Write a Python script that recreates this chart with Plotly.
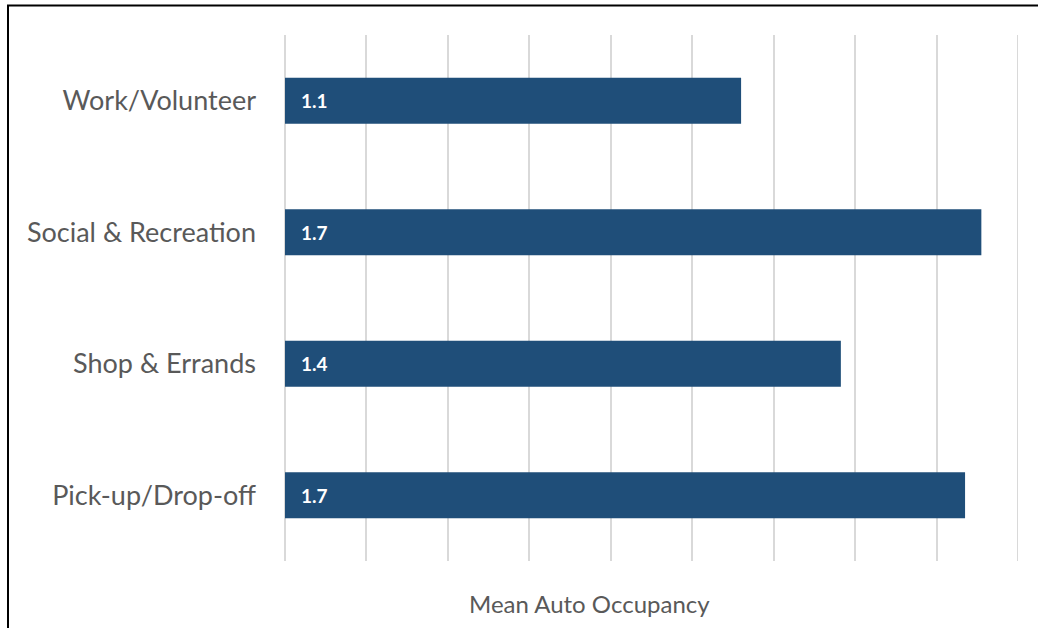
import plotly.graph_objects as go

# Mean auto occupancy by trip purpose
purposes = ["Work/Volunteer", "Social & Recreation", "Shop & Errands", "Pick-up/Drop-off"]
occupancy = [1.12, 1.71, 1.365, 1.67]

W, H = 1038, 628
M_L, M_R, M_T, M_B = 285, 20, 35, 67
plot_w = W - M_L - M_R
plot_h = H - M_T - M_B

X_MAX = 1.8
BAR_COLOR = "#1f4e79"
GRID_COLOR = "#d9d9d9"
TEXT_COLOR = "#595959"
FONT = "Lato, 'Open Sans', sans-serif"

fig = go.Figure(
    go.Bar(
        x=occupancy,
        y=purposes,
        orientation="h",
        marker=dict(color=BAR_COLOR, line=dict(width=0)),
        hoverinfo="skip",
    )
)

# value labels at the base of each bar
for name, val in zip(purposes, occupancy):
    fig.add_annotation(
        x=0, y=name, xref="x", yref="y",
        text=f"<b>{val:.1f}</b>",
        showarrow=False, xanchor="left", xshift=14,
        font=dict(family=FONT, size=19, color="white"),
    )

# axis title
fig.add_annotation(
    x=(589 - M_L) / plot_w, y=-(603 - (H - M_B)) / plot_h,
    xref="paper", yref="paper",
    text="Mean Auto Occupancy", showarrow=False,
    xanchor="center", yanchor="middle",
    font=dict(family=FONT, size=24, color=TEXT_COLOR),
)

# closing gridline at the end of the value axis
fig.add_shape(
    type="line", xref="x", yref="paper",
    x0=X_MAX, x1=X_MAX, y0=0, y1=1,
    line=dict(color=GRID_COLOR, width=2), layer="below",
)

# chart frame
fig.add_shape(
    type="rect", xref="paper", yref="paper",
    x0=(8 - M_L) / plot_w, x1=1.2,
    y0=-0.5, y1=1 + (M_T - 5.5) / plot_h,
    line=dict(color="black", width=2), fillcolor="rgba(0,0,0,0)",
    layer="above",
)

fig.update_layout(
    width=W, height=H,
    margin=dict(l=M_L, r=M_R, t=M_T, b=M_B),
    paper_bgcolor="white", plot_bgcolor="white",
    bargap=0.65,
    showlegend=False,
    font=dict(family=FONT, color=TEXT_COLOR),
    xaxis=dict(
        range=[0, X_MAX], dtick=0.2, showticklabels=False,
        showgrid=True, gridcolor=GRID_COLOR, gridwidth=2,
        zeroline=True, zerolinecolor=GRID_COLOR, zerolinewidth=2,
        showline=False, ticks="", fixedrange=True,
    ),
    yaxis=dict(
        autorange="reversed", showgrid=False, showline=False, ticks="",
        ticklabelstandoff=28,
        tickfont=dict(family=FONT, size=27, color=TEXT_COLOR),
    ),
)

fig.write_html("out.html")
